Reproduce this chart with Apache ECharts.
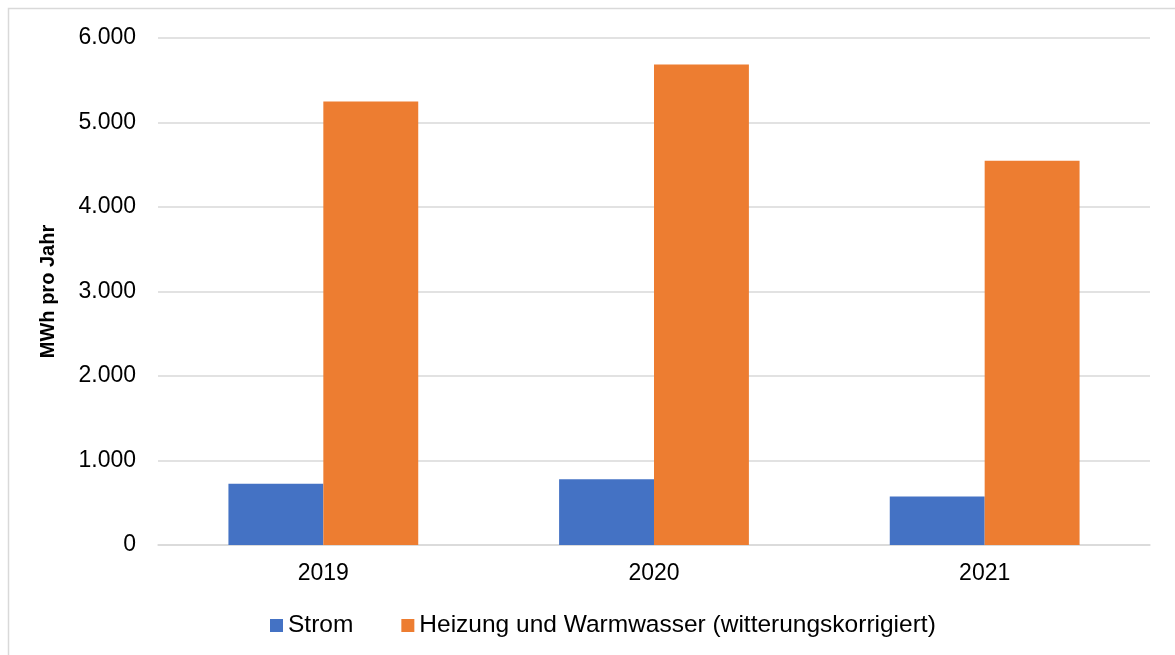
<!DOCTYPE html>
<html><head><meta charset="utf-8">
<script src="https://cdn.jsdelivr.net/npm/echarts@6/dist/echarts.min.js"></script>
<style>html,body{margin:0;padding:0;background:#fff}#c{width:1175px;height:655px}</style>
</head><body><div id="c"></div>
<script>
const categories = ['2019', '2020', '2021'];
const strom = [724, 778, 575];
const heizung = [5248, 5686, 4547];
const seriesNames = ['Strom', 'Heizung und Warmwasser (witterungskorrigiert)'];
const yAxisName = 'MWh pro Jahr';

const font = 'Liberation Sans, Arial, sans-serif';
const chart = echarts.init(document.getElementById('c'), null, {renderer: 'canvas'});
chart.setOption({
  animation: false,
  backgroundColor: '#fff',
  graphic: [{type: 'rect', shape: {x: 8.5, y: 8.5, width: 1300, height: 800}, style: {fill: 'none', stroke: '#d9d9d9', lineWidth: 1.5}, z: -1}],
  grid: {left: 158, right: 25, top: 38, bottom: 110},
  legend: {
    bottom: 12, left: 265, itemWidth: 13, itemHeight: 13, itemGap: 48,
    icon: 'rect',
    textStyle: {fontFamily: font, fontSize: 24.5, color: '#000'},
    data: seriesNames
  },
  xAxis: {
    type: 'category', data: categories,
    axisLine: {lineStyle: {color: '#d9d9d9', width: 1.5}},
    axisTick: {show: false},
    axisLabel: {fontFamily: font, fontSize: 23, color: '#000', margin: 17}
  },
  yAxis: {
    type: 'value', min: 0, max: 6000, interval: 1000,
    name: yAxisName, nameLocation: 'middle', nameGap: 100, nameRotate: 90,
    nameTextStyle: {fontFamily: font, fontSize: 20, fontWeight: 'bold', color: '#000'},
    axisLabel: {fontFamily: font, fontSize: 23, color: '#000', margin: 22,
      formatter: v => v === 0 ? '0' : (v / 1000).toFixed(3)},
    splitLine: {lineStyle: {color: '#d9d9d9', width: 1.5}},
    axisLine: {show: false}, axisTick: {show: false}
  },
  series: [
    {name: seriesNames[0], type: 'bar', data: strom, itemStyle: {color: '#4472C4'}, barGap: '0%', barCategoryGap: '42.6%'},
    {name: seriesNames[1], type: 'bar', data: heizung, itemStyle: {color: '#ED7D31'}, barGap: '0%', barCategoryGap: '42.6%'}
  ]
});
</script></body></html>
